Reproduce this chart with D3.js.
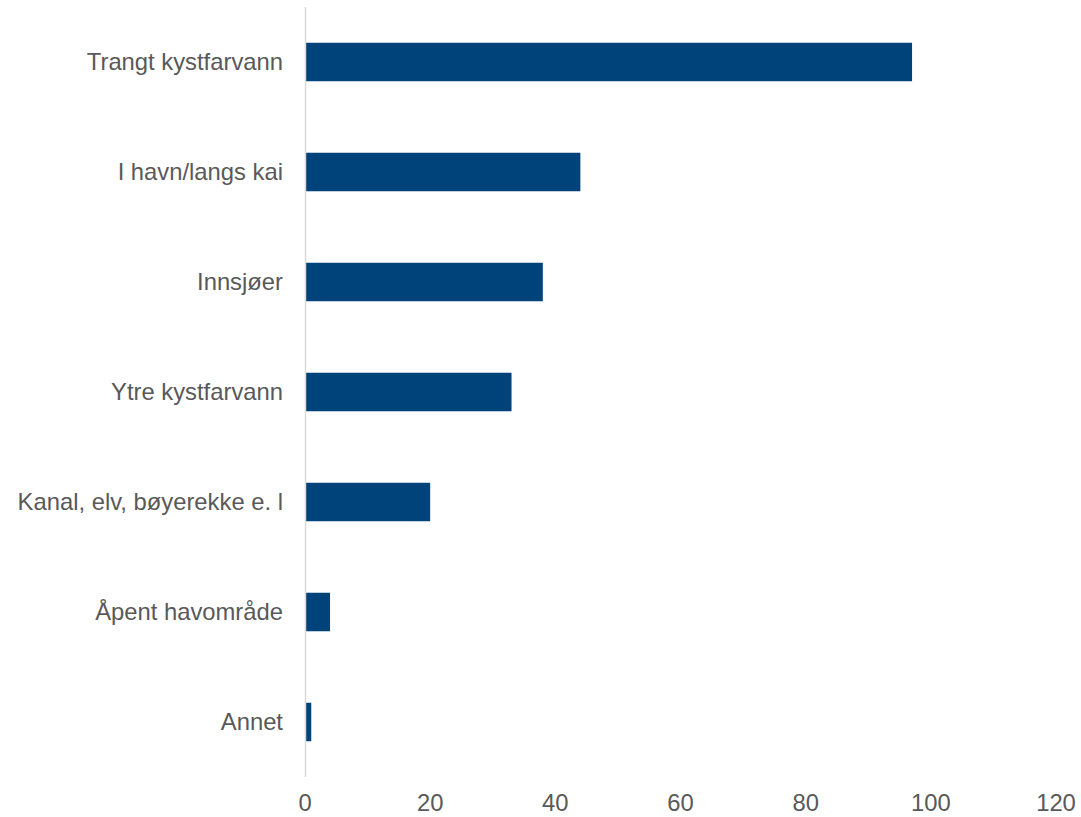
<!DOCTYPE html>
<html><head><meta charset="utf-8">
<script src="https://cdn.jsdelivr.net/npm/d3@7"></script>
<style>body{margin:0;background:#fff}</style>
</head><body>
<svg id="c" width="1081" height="817"></svg>
<script>
const categories = ["Trangt kystfarvann","I havn/langs kai","Innsjøer","Ytre kystfarvann","Kanal, elv, bøyerekke e. l","Åpent havområde","Annet"];
const values = [97, 44, 38, 33, 20, 4, 1];
const ticks = [0,20,40,60,80,100,120];

(function(){
const svg = d3.select("#c");
const mLeft = 305, mRight = 1056, mTop = 7, mBottom = 777;
const x = d3.scaleLinear().domain([0,120]).range([mLeft,mRight]);
const y = d3.scaleBand().domain(categories).range([mTop,mBottom]).paddingInner(0.65).paddingOuter(0.325);

svg.selectAll("rect.bar").data(values).enter().append("rect")
  .attr("class","bar")
  .attr("x", x(0))
  .attr("y", (d,i)=>y(categories[i]))
  .attr("width", d=>x(d)-x(0))
  .attr("height", y.bandwidth())
  .attr("fill","#00427A");

svg.append("line").attr("x1",x(0)+0.5).attr("x2",x(0)+0.5).attr("y1",mTop).attr("y2",mBottom)
  .attr("stroke","#D9D9D9").attr("stroke-width",1.5);

svg.selectAll("text.cat").data(categories).enter().append("text")
  .attr("class","cat")
  .attr("x", 283)
  .attr("y", d=>y(d)+y.bandwidth()/2)
  .attr("dy","0.35em")
  .attr("text-anchor","end")
  .attr("font-family","Liberation Sans, Arial, sans-serif")
  .attr("font-size","23.8px")
  .attr("fill","#595959")
  .text(d=>d);

svg.selectAll("text.tick").data(ticks).enter().append("text")
  .attr("class","tick")
  .attr("x", d=>x(d))
  .attr("y", 811)
  .attr("text-anchor","middle")
  .attr("font-family","Liberation Sans, Arial, sans-serif")
  .attr("font-size","23.8px")
  .attr("fill","#595959")
  .text(d=>d);
})();
</script>
</body></html>
